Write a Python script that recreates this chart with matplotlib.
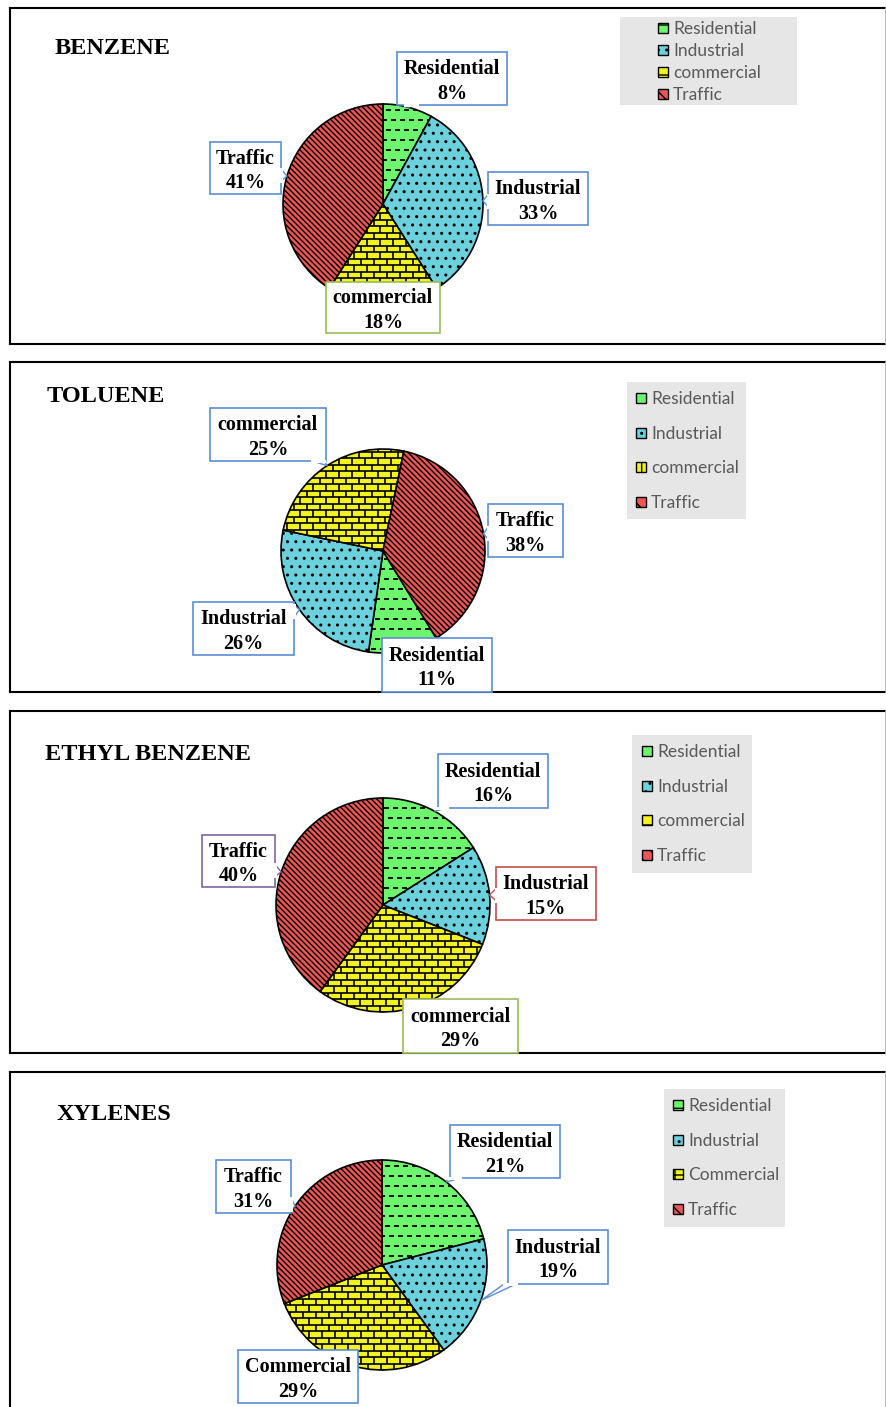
import numpy as np
import matplotlib
matplotlib.use('Agg')
import matplotlib.pyplot as plt
from matplotlib.patches import Rectangle, Polygon
from matplotlib.collections import LineCollection

################################################################################
# Datos
categorias = ['Residential', 'Industrial', 'commercial', 'Traffic']
categorias_xyl = ['Residential', 'Industrial', 'Commercial', 'Traffic']
titulos = ['BENZENE', 'TOLUENE', 'ETHYL BENZENE', 'XYLENES']

benzene = [8, 33, 18, 41]
toluene = [11, 26, 25, 38]
ethyl_benzene = [16, 15, 29, 40]
xylenes = [21, 19, 29, 31]

colores = ['#6ef56e', '#6bd1dc', '#f2f21e', '#ee5555']
################################################################################

W, H = 887, 1407
def Y(y):
    return H - y

plt.rcParams['hatch.linewidth'] = 1.0
fig = plt.figure(figsize=(W/100, H/100), dpi=100)
ax = fig.add_axes([0, 0, 1, 1])

azul, verde, rojo, morado = '#5b8ed6', '#9bbb59', '#c0504d', '#8064a2'

# layout de cada panel
paneles = [
    dict(datos=benzene, cats=categorias, borde=(8, 344), titulo=(55, 47),
         centro=(383, 204), r=100, inicio=90,
         leyenda=(620, 17, 797, 105), ley_y=[28, 50, 72, 94], ley_x=658,
         cajas=[(397, 52, 507, 105), (488, 172, 588, 225), (326, 282, 440, 333), (210, 142, 281, 194)],
         bordes=[azul, azul, verde, azul]),
    dict(datos=toluene, cats=categorias, borde=(362, 692), titulo=(47, 395),
         centro=(383, 551), r=102, inicio=-58.6,
         leyenda=(627, 382, 746, 519), ley_y=[398, 433, 467, 502], ley_x=636,
         cajas=[(382, 638, 492, 692), (193, 602, 294, 655), (210, 408, 326, 461), (488, 504, 563, 557)],
         bordes=[azul, azul, azul, azul]),
    dict(datos=ethyl_benzene, cats=categorias, borde=(711, 1053), titulo=(45, 752),
         centro=(383, 905), r=107, inicio=90,
         leyenda=(632, 735, 752, 873), ley_y=[751, 786, 820, 855], ley_x=642,
         cajas=[(438, 754, 548, 808), (496, 867, 596, 920), (403, 999, 518, 1053), (202, 835, 275, 887)],
         bordes=[azul, rojo, verde, morado]),
    dict(datos=xylenes, cats=categorias_xyl, borde=(1072, 1420), titulo=(57, 1113),
         centro=(382, 1265), r=105, inicio=90,
         leyenda=(664, 1089, 785, 1227), ley_y=[1105, 1140, 1174, 1209], ley_x=673,
         cajas=[(450, 1125, 560, 1178), (508, 1230, 608, 1284), (238, 1350, 358, 1403), (216, 1160, 291, 1213)],
         bordes=[azul, azul, azul, azul]),
]

def rayas(ax, cuña, cx, cy, r):
    # guiones horizontales (Residential)
    segs = []
    for i, yy in enumerate(np.arange(cy - r + 4, cy + r, 10)):
        off = 4.5 if i % 2 else 0
        for x in np.arange(cx - r - 9 + off, cx + r, 9):
            segs.append([(x, yy), (x + 5, yy)])
    lc = LineCollection(segs, colors='black', linewidths=1.3, zorder=3)
    ax.add_collection(lc)
    lc.set_clip_path(cuña)

def ladrillos(ax, cuña, cx, cy, r):
    # patrón de ladrillos (commercial)
    h, w = 6.5, 13
    segs = []
    for i, yy in enumerate(np.arange(cy - r, cy + r, h)):
        segs.append([(cx - r, yy), (cx + r, yy)])
        off = w/2 if i % 2 else 0
        for x in np.arange(cx - r - w + off, cx + r, w):
            segs.append([(x, yy), (x, yy + h)])
    lc = LineCollection(segs, colors='black', linewidths=1.2, zorder=3)
    ax.add_collection(lc)
    lc.set_clip_path(cuña)

def globo(ax, caja, punta, color):
    x0, y0, x1, y1 = caja
    bx, by = (x0 + x1)/2, (Y(y0) + Y(y1))/2
    w, h = x1 - x0, y1 - y0
    dx, dy = punta[0] - bx, punta[1] - by
    tx = (w/2)/abs(dx) if dx else np.inf
    ty = (h/2)/abs(dy) if dy else np.inf
    t = min(tx, ty)
    if t < 1:
        px, py = bx + dx*t, by + dy*t
        if tx < ty:
            b1, b2 = (px, py - 6), (px, py + 6)
        else:
            b1, b2 = (px - 6, py), (px + 6, py)
        ax.add_patch(Polygon([b1, punta, b2], closed=True, facecolor='white',
                             edgecolor=color, linewidth=1, zorder=4))
        ax.plot([b1[0], b2[0]], [b1[1], b2[1]], color='white', lw=2.2, zorder=5.5)
    ax.add_patch(Rectangle((x0, Y(y1)), w, h, facecolor='white', edgecolor=color,
                           linewidth=1.2, zorder=5))

sombras = ['', '..', '', '\\\\\\\\\\\\']

for p, titulo in zip(paneles, titulos):
    top, bot = p['borde']
    # marco del panel
    ax.plot([10.5, 10.5], [Y(top), Y(bot)], color='black', lw=1.5)
    ax.plot([10.5, 886], [Y(top), Y(top)], color='black', lw=1.5)
    ax.plot([10.5, 886], [Y(bot), Y(bot)], color='black', lw=1.5)
    ax.plot([886, 886], [Y(top), Y(bot)], color='#b0b0b0', lw=1.2)

    ax.text(p['titulo'][0], Y(p['titulo'][1]) - 2, titulo, family='Liberation Serif',
            fontweight='bold', fontsize=17.5, ha='left', va='center')

    cx, cy = p['centro'][0], Y(p['centro'][1])
    r = p['r']
    cuñas, _ = ax.pie(p['datos'], colors=colores, startangle=p['inicio'], counterclock=False,
                      center=(cx, cy), radius=r, hatch=sombras, frame=True,
                      wedgeprops=dict(edgecolor='black', linewidth=1.2))
    rayas(ax, cuñas[0], cx, cy, r)
    ladrillos(ax, cuñas[2], cx, cy, r)

    # etiquetas con globo
    for cuña, caja, color, cat, val in zip(cuñas, p['cajas'], p['bordes'], p['cats'], p['datos']):
        ang = np.deg2rad((cuña.theta1 + cuña.theta2)/2)
        punta = (cx + r*np.cos(ang), cy + r*np.sin(ang))
        globo(ax, caja, punta, color)
        ax.text((caja[0] + caja[2])/2, Y((caja[1] + caja[3])/2) - 3, f'{cat}\n{val}%',
                family='Liberation Serif', fontweight='bold', fontsize=14.5,
                ha='center', va='center', linespacing=1.3, zorder=6)

    # leyenda
    lx0, ly0, lx1, ly1 = p['leyenda']
    ax.add_patch(Rectangle((lx0, Y(ly1)), lx1 - lx0, ly1 - ly0, facecolor='#e6e6e6',
                           edgecolor='none', zorder=1))
    for cat, col, hh, yy in zip(p['cats'], colores, ['-', '..', '+', '\\\\'], p['ley_y']):
        ax.add_patch(Rectangle((p['ley_x'], Y(yy) - 5), 10, 10, facecolor=col,
                               edgecolor='black', linewidth=1, hatch=hh, zorder=3))
        ax.text(p['ley_x'] + 15, Y(yy) - 1, cat, family='Lato', fontsize=12.5,
                color='#595959', ha='left', va='center')

ax.set_xlim(0, W)
ax.set_ylim(0, H)
ax.set_aspect('auto')
ax.set_axis_off()
fig.savefig('out.png', dpi=100)
